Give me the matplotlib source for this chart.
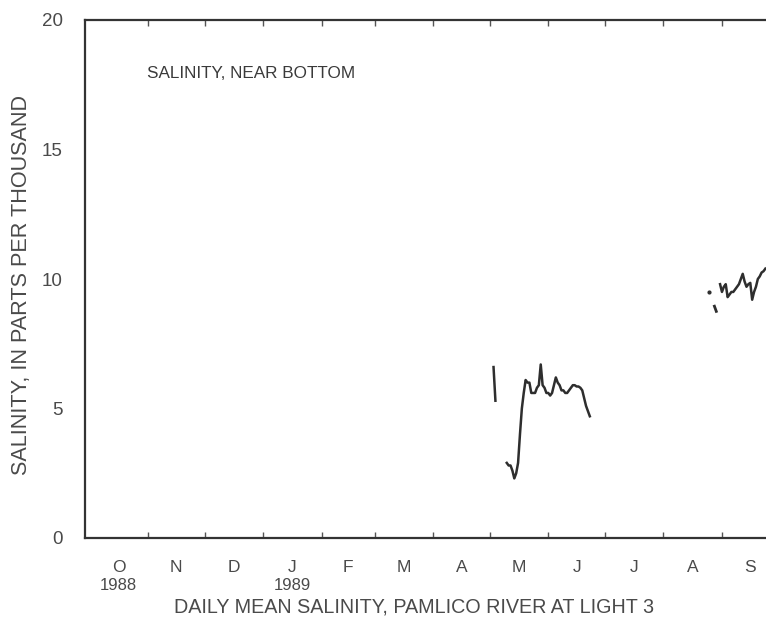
import matplotlib.pyplot as plt
import matplotlib.transforms as mtransforms

plt.rcParams['font.family'] = ['Liberation Sans', 'DejaVu Sans']

# days counted from 1 Oct 1988 (water year 1989)
month_letters = ['O', 'N', 'D', 'J', 'F', 'M', 'A', 'M', 'J', 'J', 'A', 'S']
month_days = [31, 30, 31, 31, 28, 31, 30, 31, 30, 31, 31, 30]
year_labels = {0: '1988', 3: '1989'}

# short record in early May
seg1_days = [214, 215]
seg1_sal = [6.6, 5.3]

# May - June record
seg2_days = list(range(221, 266))
seg2_sal = [2.9, 2.8, 2.8, 2.6, 2.3, 2.5, 2.9, 4.0, 5.0, 5.6,
            6.1, 6.0, 6.0, 5.6, 5.6, 5.6, 5.8, 5.9, 6.7, 5.9,
            5.8, 5.6, 5.6, 5.5, 5.6, 5.9, 6.2, 6.0, 5.9, 5.7,
            5.7, 5.6, 5.6, 5.7, 5.8, 5.9, 5.9, 5.85, 5.85, 5.8,
            5.7, 5.4, 5.1, 4.9, 4.7]

# late August single readings
dot_days = [328]
dot_sal = [9.5]
seg3_days = [331, 332]
seg3_sal = [8.95, 8.75]

# September record
seg4_days = list(range(334, 359))
seg4_sal = [9.8, 9.5, 9.7, 9.8, 9.3, 9.4, 9.5, 9.5, 9.6, 9.7,
            9.8, 10.0, 10.2, 9.9, 9.7, 9.8, 9.85, 9.2, 9.5, 9.7,
            10.0, 10.1, 10.25, 10.3, 10.4]

W, H = 766, 631
fig = plt.figure(figsize=(W / 100, H / 100), dpi=100)
x0, x1 = 85, 778.6
y_top, y_bot = 20, 538
ax = fig.add_axes([x0 / W, (H - y_bot) / H, (x1 - x0) / W, (y_bot - y_top) / H])

line_col = '#2e2e2e'
text_col = '#4a4a4a'

ax.plot(seg1_days, seg1_sal, color=line_col, lw=1.8)
ax.plot(seg2_days, seg2_sal, color=line_col, lw=1.8)
ax.plot(dot_days, dot_sal, 'o', color=line_col, ms=2)
ax.plot(seg3_days, seg3_sal, color=line_col, lw=2)
ax.plot(seg4_days, seg4_sal, color=line_col, lw=1.8)

ax.set_xlim(-2.4, 365)
ax.set_ylim(0, 20)

for s in ax.spines.values():
    s.set_color('#333333')
    s.set_linewidth(1.6)

starts = [0]
for d in month_days[:-1]:
    starts.append(starts[-1] + d)
mids = [s + d / 2 for s, d in zip(starts, month_days)]

ax.set_xticks(starts[1:] + [365])
ax.set_xticklabels([])
ax.tick_params(axis='x', which='both', direction='in', length=4, width=1,
               top=True, color='#555555')
ax.set_yticks([0, 5, 10, 15, 20])
ax.tick_params(axis='y', length=0, pad=16, labelsize=13.5, labelcolor=text_col)

trans = mtransforms.blended_transform_factory(ax.transData, fig.transFigure)
for i, (m, lab) in enumerate(zip(mids, month_letters)):
    ax.text(m, 1 - 568 / H, lab, transform=trans, ha='center', va='center',
            fontsize=12.5, color=text_col)
    if i in year_labels:
        ax.text(m, 1 - 585 / H, year_labels[i], transform=trans, ha='center',
                va='center', fontsize=12, color=text_col)

fig.text(147 / W, 1 - 73 / H, 'SALINITY, NEAR BOTTOM', ha='left', va='center',
         fontsize=12.3, color='#3a3a3a')
fig.text(414 / W, 1 - 607 / H, 'DAILY MEAN SALINITY, PAMLICO RIVER AT LIGHT 3',
         ha='center', va='center', fontsize=14.2, color=text_col)
fig.text(22 / W, 1 - 285 / H, 'SALINITY, IN PARTS PER THOUSAND', rotation=90,
         ha='center', va='center', fontsize=15.6, color=text_col)

fig.savefig('out.png', dpi=100)
